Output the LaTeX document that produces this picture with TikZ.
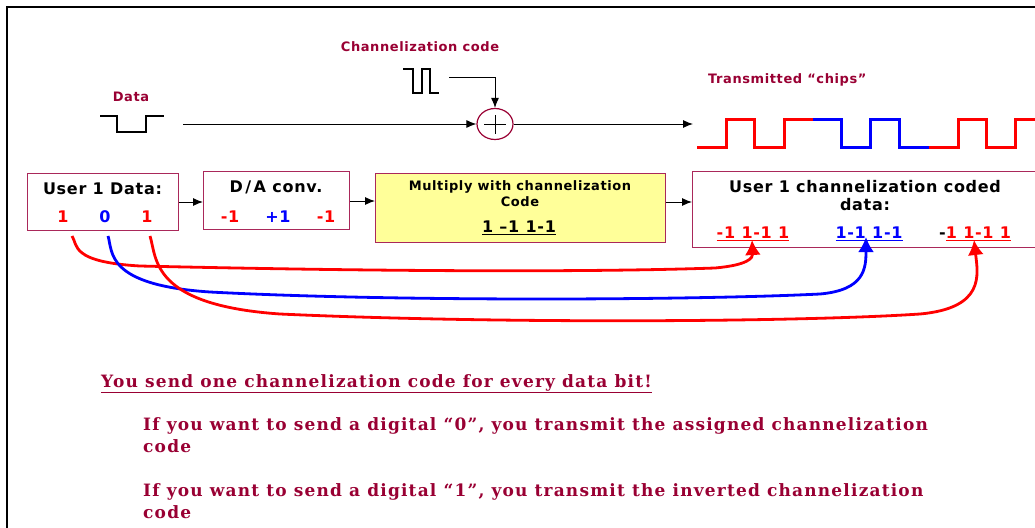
\documentclass[tikz,border=0pt]{standalone}
\usepackage{fontspec}
\setmainfont{DejaVu Sans}[LetterSpace=4.5]
\newfontfamily\btmfont{DejaVu Serif}[UprightFont={* Bold}, BoldFont={* Bold}, LetterSpace=7]
\usetikzlibrary{arrows.meta,shapes.geometric}
\definecolor{dred}{RGB}{153,0,51}
\definecolor{bord}{RGB}{170,40,90}
\definecolor{yel}{RGB}{255,255,153}
\begin{document}
\begin{tikzpicture}[x=1pt,y=-1pt,
  lbl/.style={font=\fontsize{13}{15}\selectfont\bfseries, text=dred, inner sep=0},
  box/.style={draw=bord, line width=1.2pt, anchor=north west, inner sep=0},
  arr/.style={line width=1pt, -{Latex[length=10pt,width=8pt]}},
  wave/.style={line width=2.5pt},
  chip/.style={line width=3pt},
  link/.style={line width=2.8pt, -{Latex[length=15pt,width=16pt]}},
  ttl/.style={font=\fontsize{16}{18}\selectfont\bfseries, inner sep=0},
  num/.style={font=\fontsize{16}{18}\selectfont\bfseries, inner sep=0},
  btm/.style={font=\btmfont\fontsize{17}{22}\selectfont, text=dred, inner sep=0}
]
\useasboundingbox (0,0) rectangle (1035,527);
\draw[line width=2.5pt] (7,540) -- (7,7) -- (1045,7);

% labels
\node[lbl] (chl) at (420,47) {Channelization code};
\node[lbl] (datal) at (131,97) {Data};
\node[lbl, anchor=west] (txl) at (708,80) {Transmitted “chips”};

% small waveforms
\draw[wave] (403,69) -- (413,69) -- (413,93) -- (422,93) -- (422,69) -- (430,69) -- (430,93) -- (439,93);
\draw[wave] (100,116) -- (117,116) -- (117,132) -- (146,132) -- (146,116) -- (164,116);

% adder
\node[ellipse, draw=dred, line width=1.2pt, minimum width=36, minimum height=31, inner sep=0] (add) at (495,124) {};
\draw[line width=1pt] ([xshift=-11pt]add.center) -- ([xshift=11pt]add.center);
\draw[line width=1pt] ([yshift=-9.5pt]add.center) -- ([yshift=9.5pt]add.center);

\coordinate (codeout) at (449,77);
\coordinate (dataout) at (183,124);
\coordinate (chipsin) at (693,124);
\draw[arr] (codeout) -| (add.north);
\draw[arr] (dataout) -- (add.west);
\draw[arr] (add.east) -- (chipsin);

% chips
\draw[chip, red] (697,147) -- (726,147) -- (726,119) -- (754,119) -- (754,147) -- (784,147) -- (784,119) -- (813,119);
\draw[chip, blue] (813,119) -- (841,119) -- (841,147) -- (870,147) -- (870,119) -- (899,119) -- (899,147) -- (929,147);
\draw[chip, red] (929,147) -- (958,147) -- (958,119) -- (986,119) -- (986,147) -- (1015,147) -- (1015,119) -- (1045,119);

% boxes
\node[box, minimum width=151, minimum height=57] (b1) at (27,173) {};
\node[box, minimum width=146, minimum height=58] (b2) at (203,171) {};
\node[box, fill=yel, minimum width=290, minimum height=69] (b3) at (375,173) {};
\node[box, minimum width=360, minimum height=76] (b4) at (692,171) {};

\draw[arr] (b1.east |- 0,202) -- (b2.west |- 0,202);
\draw[arr] (b2.east |- 0,201) -- (b3.west |- 0,201);
\draw[arr] (b3.east |- 0,202) -- (b4.west |- 0,202);

% box texts
\node[ttl] (t1) at (102.5,189) {User 1 Data:};
\node[num, text=red] (d1) at (63,217) {1};
\node[num, text=blue] (d2) at (105,217) {0};
\node[num, text=red] (d3) at (147,217) {1};

\node[ttl] (t2) at (276,187) {D\kern2.5pt/\kern2.5pt A conv.};
\node[num, text=red] (n1) at (230,217) {-1};
\node[num, text=blue] (n2) at (278,217) {+1};
\node[num, text=red] (n3) at (326,217) {-1};

\node[font=\fontsize{13}{16}\selectfont\bfseries, align=center, inner sep=0] (t3) at (520,194) {Multiply with channelization\\Code};
\node[num] (t3b) at (519,228) {\underline{1 –1 1-1}};

\node[ttl, align=center] (t4) at (865,196) {User 1 channelization coded\\data:};
\node[num, text=red] (c1) at (753,234) {\underline{-1 1-1 1}};
\node[num, text=blue] (c2) at (869,234) {\underline{1-1 1-1}};
\node[num, anchor=west] (c3) at (939,234) {-\textcolor{red}{\underline{1 1-1 1}}};

% links
\coordinate (s1) at (72,236);
\coordinate (s2) at (108,236);
\coordinate (s3) at (150,236);
\coordinate (a1) at (752,240);
\coordinate (a2) at (866,237);
\coordinate (a3) at (974,240);
\draw[link, red] (s1) .. controls (78,245) and (70,262) .. (140,266) .. controls (400,272) and (600,272) .. (715,268) .. controls (748,265) and (753,258) .. (a1);
\draw[link, blue] (s2) .. controls (113,252) and (105,285) .. (210,292) .. controls (400,302) and (700,300) .. (820,294) .. controls (865,290) and (866,268) .. (a2);
\draw[link, red] (s3) .. controls (157,258) and (150,305) .. (280,314) .. controls (500,324) and (800,322) .. (920,314) .. controls (985,308) and (978,275) .. (a3);

% bottom text
\node[btm, anchor=base west] (m1) at (101,387) {\underline{You send one channelization code for every data bit!}};
\node[btm, anchor=base west] (m2) at (143,430) {If you want to send a digital “0”, you transmit the assigned channelization};
\node[btm, anchor=base west] (m2b) at (143,452) {code};
\node[btm, anchor=base west] (m3) at (143,496) {If you want to send a digital “1”, you transmit the inverted channelization};
\node[btm, anchor=base west] (m3b) at (143,518) {code};
\end{tikzpicture}
\end{document}
